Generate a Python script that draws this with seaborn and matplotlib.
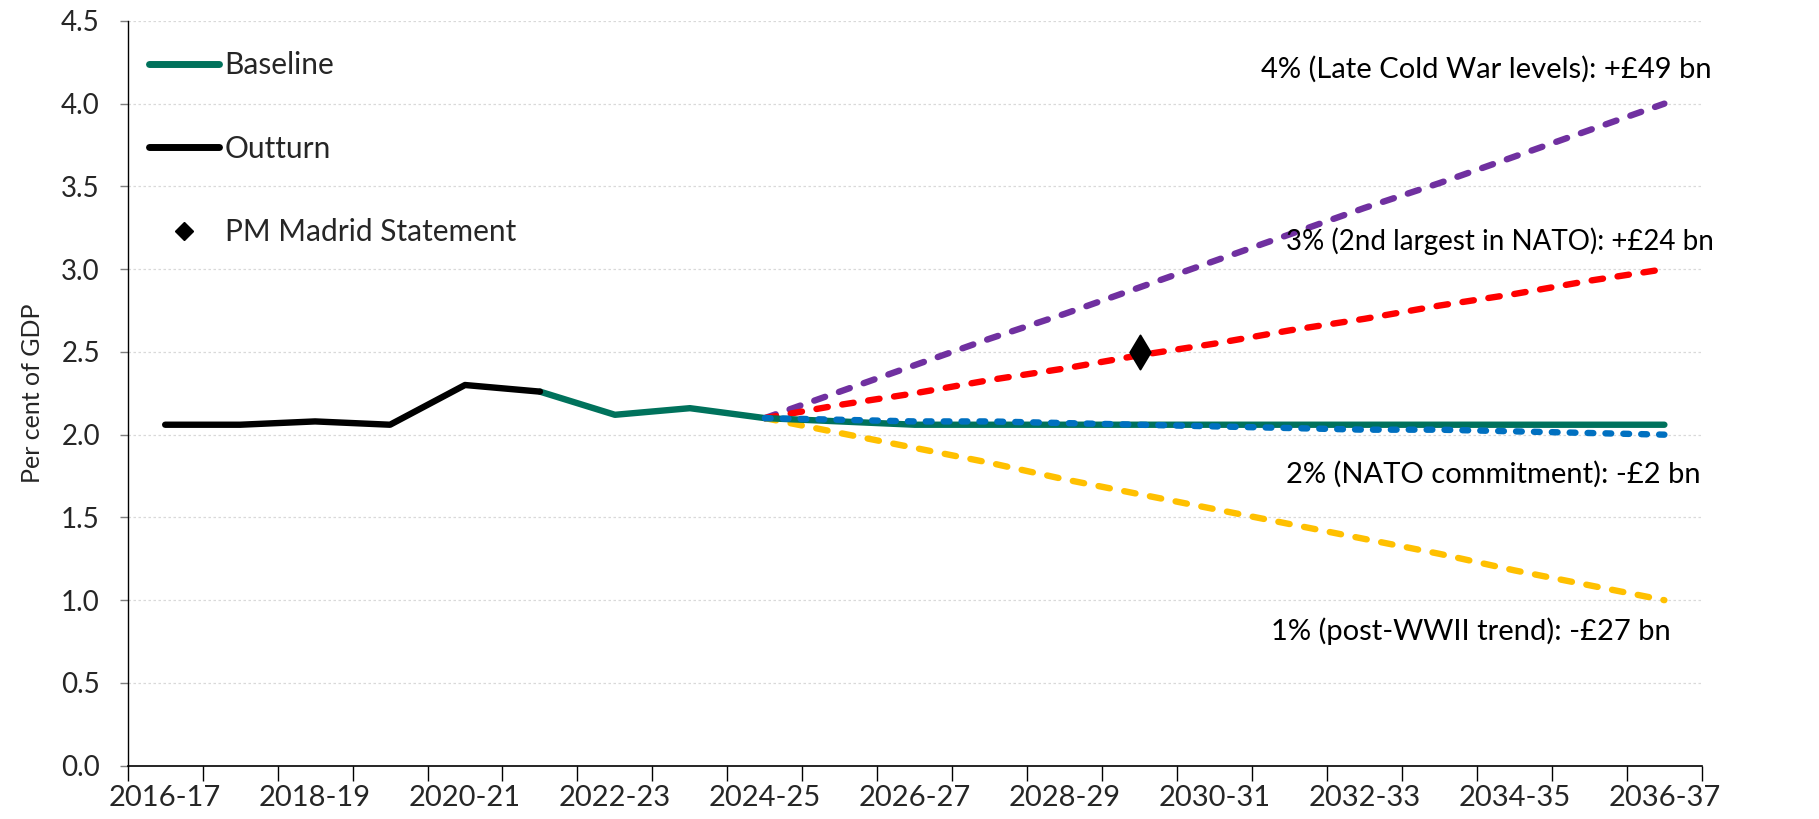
import numpy as np
import pandas as pd
import seaborn as sns
import matplotlib
matplotlib.use('Agg')
import matplotlib.pyplot as plt
from matplotlib.lines import Line2D

# Financial years on the x axis
years = ["2016-17", "2017-18", "2018-19", "2019-20", "2020-21", "2021-22",
         "2022-23", "2023-24", "2024-25", "2025-26", "2026-27", "2027-28",
         "2028-29", "2029-30", "2030-31", "2031-32", "2032-33", "2033-34",
         "2034-35", "2035-36", "2036-37"]

# Defence spending, per cent of GDP
outturn_years = years[0:6]
outturn = [2.06, 2.06, 2.08, 2.06, 2.30, 2.26]

baseline_years = years[5:]
baseline = [2.26, 2.12, 2.16, 2.10, 2.08, 2.06, 2.06, 2.06, 2.06, 2.06,
            2.06, 2.06, 2.06, 2.06, 2.06, 2.06]

scenario_years = years[8:]
pct4 = [2.10, 2.26, 2.42, 2.58, 2.73, 2.89, 3.05, 3.21, 3.37, 3.52, 3.68, 3.84, 4.00]
pct3 = [2.10, 2.18, 2.25, 2.33, 2.40, 2.48, 2.55, 2.63, 2.70, 2.78, 2.85, 2.93, 3.00]
pct2 = [2.10, 2.09, 2.08, 2.08, 2.07, 2.06, 2.05, 2.04, 2.03, 2.03, 2.02, 2.01, 2.00]
pct1 = [2.10, 2.01, 1.92, 1.83, 1.73, 1.64, 1.55, 1.46, 1.37, 1.28, 1.18, 1.09, 1.00]

madrid_year = "2029-30"
madrid_value = 2.5

scenario_labels = ["4% (Late Cold War levels): +£49 bn",
                   "3% (2nd largest in NATO): +£24 bn",
                   "2% (NATO commitment): -£2 bn",
                   "1% (post-WWII trend): -£27 bn"]

green = "#00725C"
purple = "#7030A0"
red = "#FF0000"
blue = "#0070C0"
yellow = "#FFC000"

sns.set_style("white")
plt.rcParams['font.family'] = ['Lato', 'DejaVu Sans']

pos = {y: i for i, y in enumerate(years)}

fig = plt.figure(figsize=(18.19, 8.19), dpi=100)
ax = fig.add_axes([0.0702, 0.0651, 0.8654, 0.9094])

for y in [0.5, 1.0, 1.5, 2.0, 2.5, 3.0, 3.5, 4.0, 4.5]:
    ax.axhline(y, color="#d9d9d9", lw=0.9, ls=(0, (2, 2)), zorder=0)

def draw(xs, ys, color, style=None, lw=4.6):
    df = pd.DataFrame({"x": [pos[x] for x in xs], "y": ys})
    sns.lineplot(data=df, x="x", y="y", color=color, lw=lw, ax=ax,
                 solid_capstyle="round", dash_capstyle="round",
                 **({"dashes": False, "linestyle": (0, style)} if style else {}))

draw(scenario_years, pct1, yellow, (1.8, 2.3))
draw(scenario_years, pct4, purple, (1.8, 2.3))
draw(scenario_years, pct3, red, (1.8, 2.3))
draw(baseline_years, baseline, green)
draw(scenario_years, pct2, blue, (0.9, 1.9))
draw(outturn_years, outturn, "black")

sns.scatterplot(x=[pos[madrid_year]], y=[madrid_value], marker="d", s=300,
                color="black", edgecolor="black", ax=ax, zorder=5)

# scenario labels
label_pos = [(20.63, 4.21), (20.66, 3.17), (20.49, 1.76), (20.09, 0.81)]
label_size = [21, 20, 21, 21]
for txt, (lx, ly), fs in zip(scenario_labels, label_pos, label_size):
    ax.text(lx, ly, txt, ha="right", va="center", fontsize=fs, color="black")

handles = [Line2D([], [], color=green, lw=5, solid_capstyle="round"),
           Line2D([], [], color="black", lw=5, solid_capstyle="round"),
           Line2D([], [], color="black", lw=0, marker="D", markersize=9)]
ax.legend(handles, ["Baseline", "Outturn", "PM Madrid Statement"],
          loc="upper left", bbox_to_anchor=(0.0, 0.987), frameon=False,
          fontsize=21.5, handlelength=2.35, handletextpad=0.2,
          labelspacing=1.85, borderaxespad=0.3)

ax.set_xlim(-0.5, 20.5)
ax.set_ylim(0, 4.5)
ax.set_yticks(np.arange(0, 4.51, 0.5))
ax.set_yticklabels([f"{v:.1f}" for v in np.arange(0, 4.51, 0.5)])
ax.set_xticks(range(0, 21, 2))
ax.set_xticklabels(years[::2])
ax.set_xticks(np.arange(-0.5, 21, 1), minor=True)
ax.tick_params(axis="x", which="major", length=0, pad=14, labelsize=21)
ax.tick_params(axis="x", which="minor", length=11, width=1, color="black",
               direction="out", bottom=True)
ax.tick_params(axis="y", length=6, width=1, color="#7f7f7f", direction="out",
               left=True, labelsize=20, pad=14)
ax.set_xlabel("")
ax.set_ylabel("Per cent of GDP", fontsize=18, labelpad=12)

for s in ["top", "right"]:
    ax.spines[s].set_visible(False)
ax.spines["left"].set_color("black")
ax.spines["bottom"].set_color("black")
ax.spines["left"].set_linewidth(1)
ax.spines["bottom"].set_linewidth(1.2)

fig.savefig("out.png", dpi=100)
